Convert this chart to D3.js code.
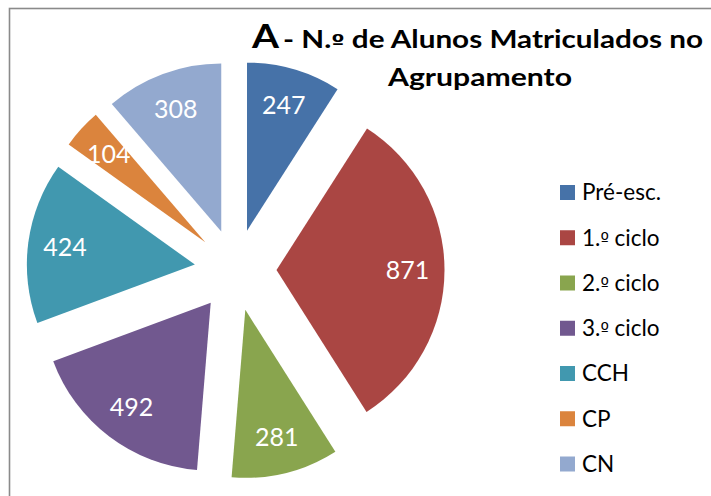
<!DOCTYPE html>
<html>
<head>
<meta charset="utf-8">
<script src="https://cdn.jsdelivr.net/npm/d3@7"></script>
<style>
  html, body { margin: 0; padding: 0; background: #fff; }
  svg { display: block; }
  .ord { font-family: 'DejaVu Sans', sans-serif; }
</style>
</head>
<body>
<svg id="chart" width="711" height="496"></svg>
<script>
const categories = ["Pré-esc.", "1.º ciclo", "2.º ciclo", "3.º ciclo", "CCH", "CP", "CN"];
const values = [247, 871, 281, 492, 424, 104, 308];
const colors = ["#4672A8", "#AA4643", "#89A54E", "#71588F", "#4198AF", "#DB843D", "#93A9CF"];
const titleLetter = "A";
const titleLine1 = "- N.º de Alunos Matriculados no";
const titleLine2 = "Agrupamento";

const svg = d3.select("#chart");
const font = "Lato, sans-serif";

// write text, rendering the ordinal "º" with a font that underlines it
function setText(sel, str) {
  const parts = str.split("º");
  parts.forEach((p, i) => {
    if (p) sel.append("tspan").text(p);
    if (i < parts.length - 1) sel.append("tspan").attr("class", "ord").attr("font-size", "0.8em").text("º");
  });
}

// frame
svg.append("rect")
  .attr("x", 9.5).attr("y", 8.5)
  .attr("width", 800).attr("height", 600)
  .attr("fill", "#fff")
  .attr("stroke", "#8a8a8a").attr("stroke-width", 1.6);

const cx = 235.5, cy = 270, R = 168, explode = 41, labelR = 131;

const pie = d3.pie().sort(null).value(d => d).startAngle(0).endAngle(2 * Math.PI);
const arcs = pie(values);
const arc = d3.arc().innerRadius(0).outerRadius(R);
const labelArc = d3.arc().innerRadius(labelR).outerRadius(labelR);

const g = svg.append("g").attr("transform", `translate(${cx},${cy})`);

const slices = g.selectAll("g.slice").data(arcs).enter().append("g")
  .attr("class", "slice")
  .attr("transform", d => {
    const a = (d.startAngle + d.endAngle) / 2;
    return `translate(${explode * Math.sin(a)},${-explode * Math.cos(a)})`;
  });

slices.append("path")
  .attr("d", arc)
  .attr("fill", (d, i) => colors[i]);

slices.append("text")
  .attr("transform", d => `translate(${labelArc.centroid(d)})`)
  .attr("text-anchor", "middle")
  .attr("dy", "0.36em")
  .attr("font-family", font)
  .attr("font-size", 25)
  .attr("fill", "#fff")
  .text(d => d.value);

// title
const title = svg.append("g").attr("font-family", font).attr("font-weight", "bold").attr("fill", "#000");
title.append("text")
  .attr("x", 252).attr("y", 47.5)
  .attr("font-size", 33)
  .attr("textLength", 27).attr("lengthAdjust", "spacingAndGlyphs")
  .text(titleLetter);
title.append("text")
  .attr("x", 283).attr("y", 47.5)
  .attr("font-size", 24)
  .attr("textLength", 420).attr("lengthAdjust", "spacingAndGlyphs")
  .call(setText, titleLine1);
title.append("text")
  .attr("x", 388).attr("y", 86)
  .attr("font-size", 24)
  .attr("textLength", 184).attr("lengthAdjust", "spacingAndGlyphs")
  .text(titleLine2);

// legend
const legendY = d3.scalePoint().domain(categories).range([192.5, 464]);
const legend = svg.append("g");
const items = legend.selectAll("g").data(categories).enter().append("g")
  .attr("transform", d => `translate(560,${legendY(d)})`);
items.append("rect")
  .attr("x", 0).attr("y", -7.5).attr("width", 15).attr("height", 15)
  .attr("fill", (d, i) => colors[i]);
items.append("text")
  .attr("x", 22).attr("y", 0).attr("dy", "0.35em")
  .attr("font-family", font).attr("font-size", 22.5).attr("fill", "#000")
  .each(function(d) { d3.select(this).call(setText, d); });
</script>
</body>
</html>
